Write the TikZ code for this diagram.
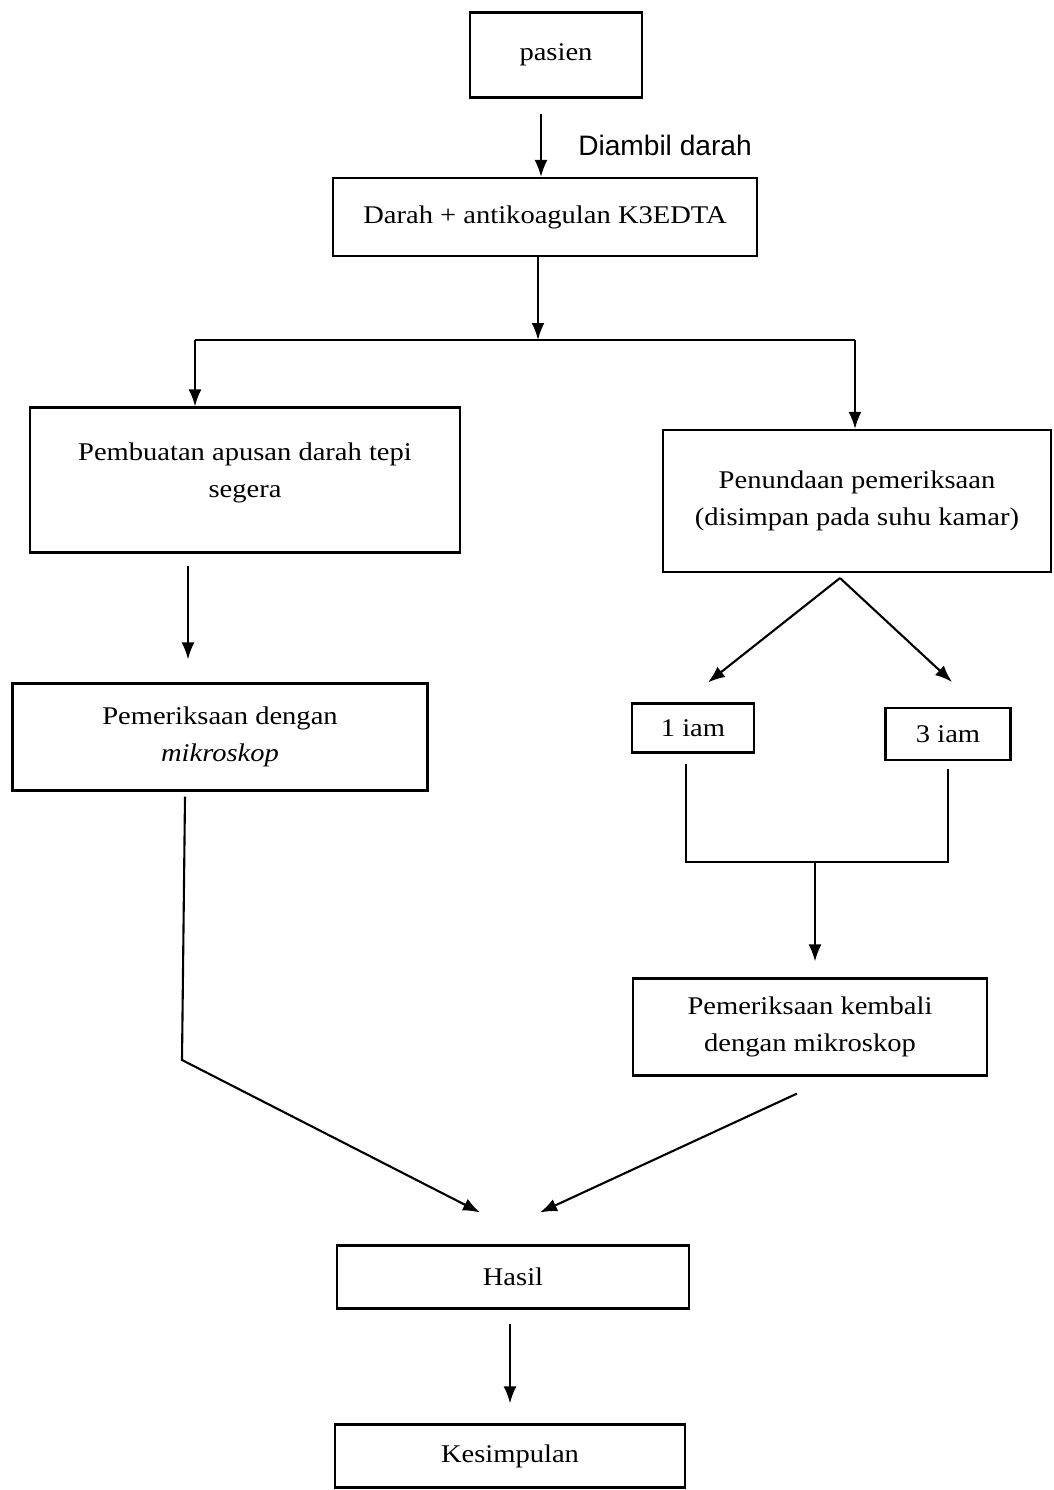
\documentclass[tikz,border=0pt]{standalone}
\usepackage{fontspec}
\setmainfont[FakeStretch=1.12]{Liberation Serif}
\newfontfamily\labelfont{Liberation Sans}
\usetikzlibrary{arrows.meta}

\begin{document}
\begin{tikzpicture}[x=0.2mm, y=-0.2mm, line width=1.2pt,
    kotak/.style={draw, rectangle, align=center, inner sep=2pt, font=\fontsize{14.5}{21}\selectfont},
    arr/.style={-{Latex[length=3.4mm, width=2.6mm]}}]
                \useasboundingbox (0,0) rectangle (1053,1490);

                % Kotak-kotak utama
                \node[kotak, minimum width=3.44cm, minimum height=1.7cm] (pasien) at (556,55) {pasien};
                \node[kotak, minimum width=8.48cm, minimum height=1.56cm] (darah) at (545,217) {Darah + antikoagulan K3EDTA};
                \node[kotak, minimum width=8.6cm, minimum height=2.9cm] (apusan) at (245,480) {Pembuatan apusan darah tepi\\segera\\[-0.35cm]};
                \node[kotak, minimum width=7.76cm, minimum height=2.84cm] (tunda) at (857,501) {Penundaan pemeriksaan\\(disimpan pada suhu kamar)};
                \node[kotak, minimum width=8.3cm, minimum height=2.14cm] (mikro) at (220,737) {Pemeriksaan dengan\\\textit{mikroskop}};
                \node[kotak, minimum width=2.44cm, minimum height=0.98cm] (satu) at (693,728) {1 iam};
                \node[kotak, minimum width=2.5cm, minimum height=1.04cm] (tiga) at (948,734) {3 iam};
                \node[kotak, minimum width=7.08cm, minimum height=1.94cm] (kembali) at (810,1027) {Pemeriksaan kembali\\dengan mikroskop};
                \node[kotak, minimum width=7.04cm, minimum height=1.26cm] (hasil) at (513,1277) {Hasil};
                \node[kotak, minimum width=7.0cm, minimum height=1.26cm] (simpul) at (510,1456) {Kesimpulan};

                % Pengambilan darah
                \draw[arr] ([xshift=-0.3cm, yshift=-0.3cm]pasien.south) -- ([xshift=-0.3cm]pasien.south |- darah.north);
                \node[font=\labelfont\fontsize{16}{19}\selectfont] (ambil) at (665,145) {Diambil darah};

                % Percabangan
                \coordinate (cabang) at (538,340);
                \coordinate (cabangL) at (195,340);
                \coordinate (cabangR) at (855,340);
                \draw[arr] (darah.south -| cabang) -- (cabang);
                \draw (cabangL) -- (cabangR);
                \draw[arr] (cabangL) -- (cabangL |- apusan.north);
                \draw[arr] (cabangR) -- (cabangR |- tunda.north);

                % Jalur segera
                \coordinate (kolomL) at (188,0);
                \draw[arr, shorten <=0.24cm, shorten >=0.46cm] (apusan.south -| kolomL) -- (mikro.north -| kolomL);

                % Jalur penundaan
                \coordinate (pisah) at ([xshift=-0.34cm, yshift=-0.1cm]tunda.south);
                \draw[arr] (pisah) -- ([xshift=0.3cm, yshift=0.4cm]satu.north);
                \draw[arr] (pisah) -- ([xshift=0.08cm, yshift=0.5cm]tiga.north);
                \coordinate (gabung) at (815,862);
                \draw ([xshift=-0.14cm, yshift=-0.2cm]satu.south) |- (tiga.south |- gabung) -- ([yshift=-0.16cm]tiga.south);
                \draw[arr, shorten >=0.32cm] (gabung) -- (gabung |- kembali.north);

                % Menuju hasil
                \coordinate (tekuk) at (182,1060);
                \draw[arr] ([xshift=-0.7cm, yshift=-0.1cm]mikro.south) -- (tekuk) -- ([xshift=-0.66cm, yshift=0.64cm]hasil.north);
                \draw[arr] ([xshift=-0.26cm, yshift=-0.34cm]kembali.south) -- ([xshift=0.54cm, yshift=0.64cm]hasil.north);
                \draw[arr, shorten <=0.28cm, shorten >=0.4cm] (hasil.south -| simpul.north) -- (simpul.north);
            \end{tikzpicture}
\end{document}
